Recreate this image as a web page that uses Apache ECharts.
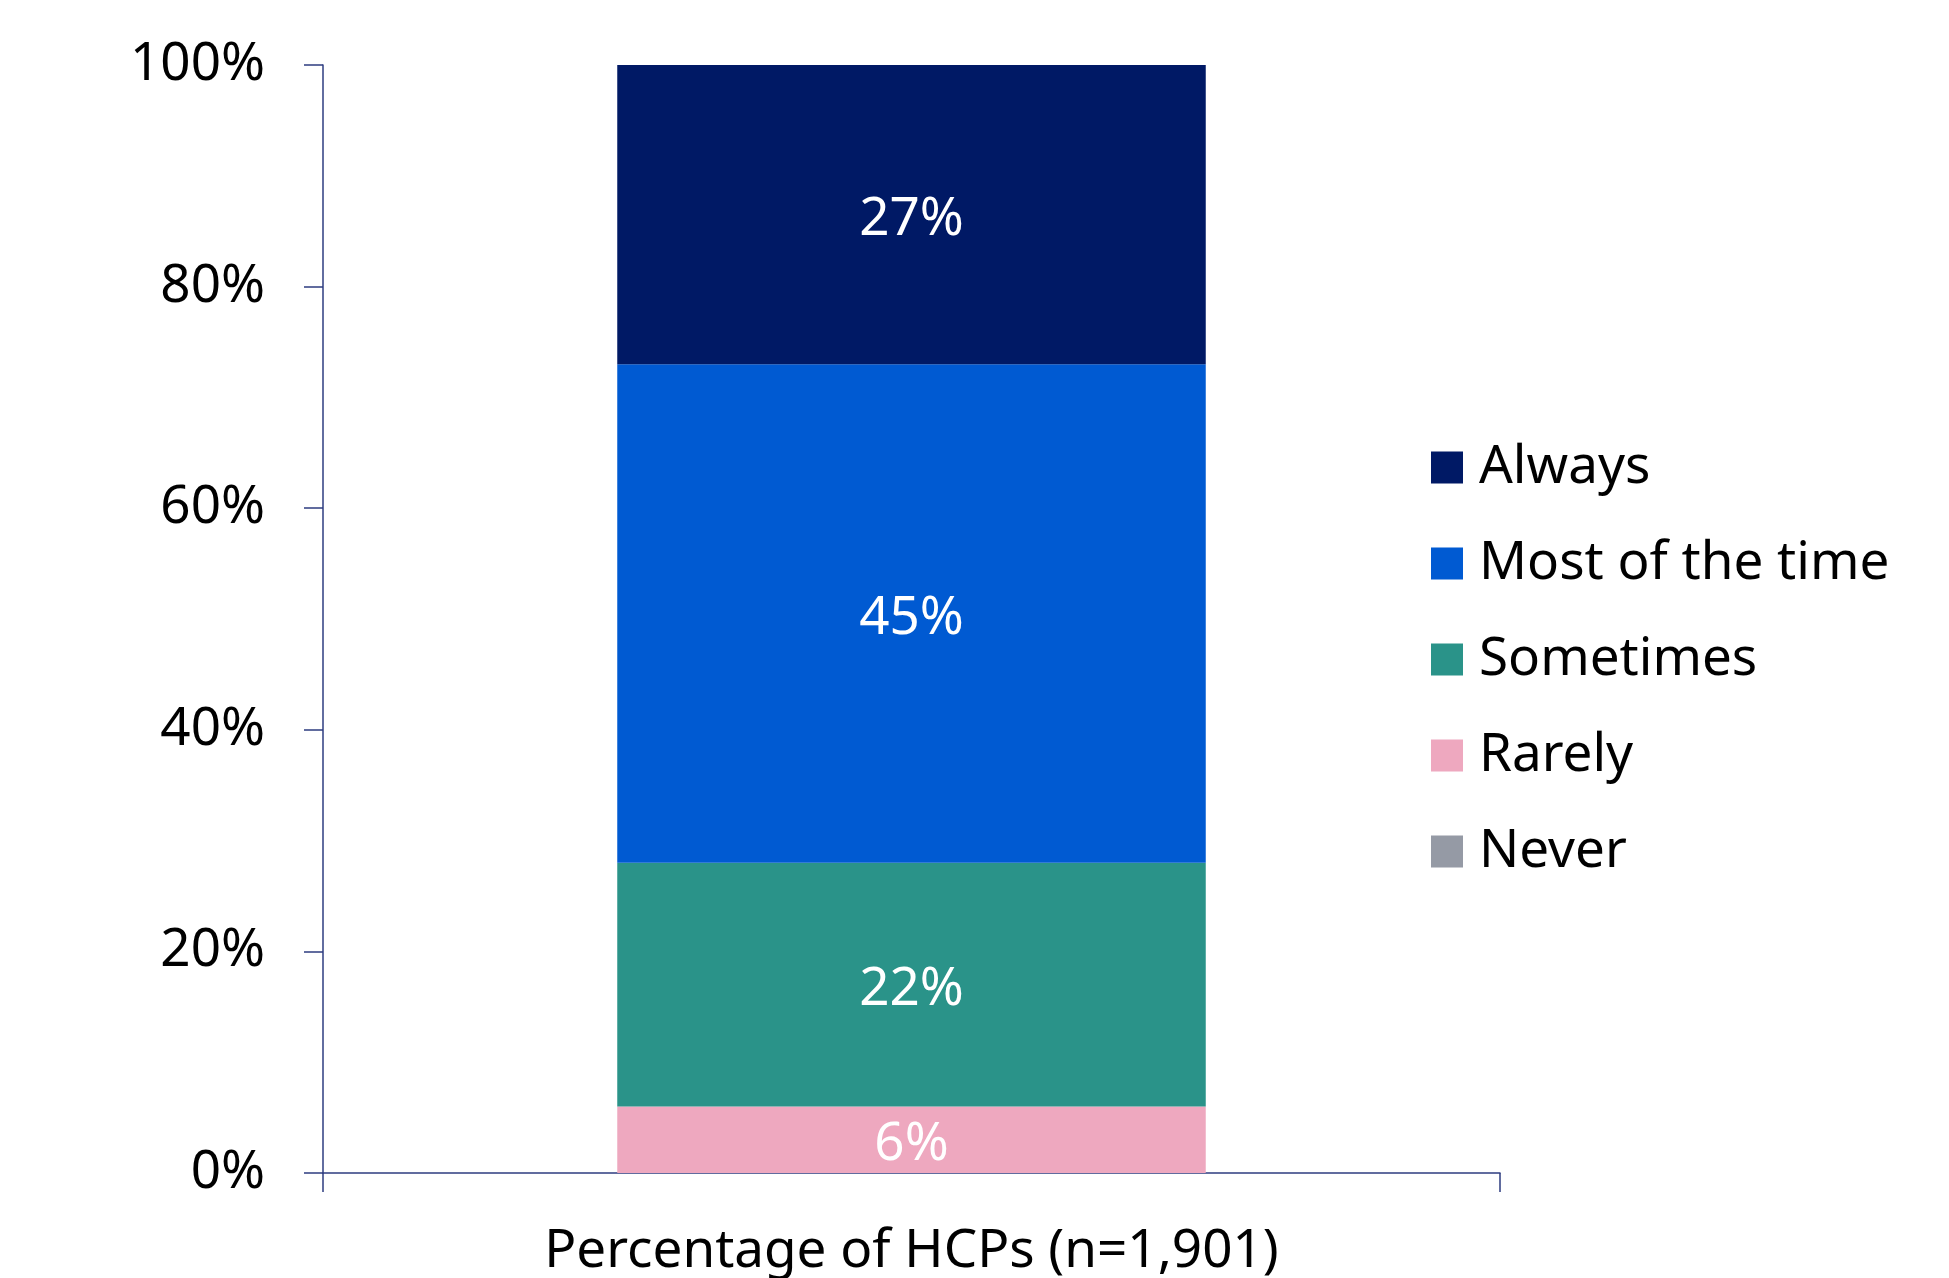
<!DOCTYPE html>
<html>
<head>
<meta charset="utf-8">
<script src="https://cdn.jsdelivr.net/npm/echarts@6/dist/echarts.min.js"></script>
<style>
  html, body { margin: 0; padding: 0; background: #ffffff; }
  #chart { width: 1949px; height: 1278px; }
</style>
</head>
<body>
<div id="chart"></div>
<script>
// Share of HCPs by response frequency (single stacked column)
const categories = ['Percentage of HCPs (n=1,901)'];
const responses = ['Always', 'Most of the time', 'Sometimes', 'Rarely', 'Never'];
const always = [27];
const mostOfTheTime = [45];
const sometimes = [22];
const rarely = [6];
const never = [0];
const yTicks = [0, 20, 40, 60, 80, 100];

const colors = {
  'Always': '#001965',
  'Most of the time': '#005ad2',
  'Sometimes': '#2a9389',
  'Rarely': '#eea8bf',
  'Never': '#959aa5'
};

const FONT = 'Noto Sans';
const FONT_SIZE = 53;
const axisColor = '#2e3d80';

function segment(name, values) {
  return {
    name: name,
    type: 'bar',
    stack: 'total',
    barWidth: '50%',
    data: values,
    itemStyle: { color: colors[name] },
    label: {
      show: true,
      position: 'inside',
      offset: [0, 5],
      color: '#ffffff',
      fontFamily: FONT,
      fontSize: FONT_SIZE,
      formatter: p => (p.value > 0 ? p.value + '%' : '')
    }
  };
}

const chart = echarts.init(document.getElementById('chart'), null, { renderer: 'canvas' });
chart.setOption({
  animation: false,
  backgroundColor: '#ffffff',
  textStyle: { fontFamily: FONT },
  grid: { left: 323, right: 449, top: 65, bottom: 103, containLabel: false },
  legend: {
    data: responses,
    orient: 'vertical',
    left: 1426,
    top: 436,
    icon: 'rect',
    itemWidth: 32,
    itemHeight: 32,
    itemGap: 43,
    textStyle: { fontFamily: FONT, fontSize: FONT_SIZE, color: '#000000', lineHeight: 50, padding: [0, 0, 0, 11] }
  },
  xAxis: {
    type: 'category',
    data: categories,
    axisLine: { show: true, lineStyle: { color: axisColor, width: 1.5 } },
    axisTick: { show: true, length: 19, lineStyle: { color: axisColor, width: 1.5 } },
    axisLabel: { color: '#000000', fontFamily: FONT, fontSize: FONT_SIZE, margin: 52 }
  },
  yAxis: {
    type: 'value',
    min: yTicks[0],
    max: yTicks[yTicks.length - 1],
    interval: 20,
    axisLine: { show: true, lineStyle: { color: axisColor, width: 1.5 } },
    axisTick: { show: true, length: 19, lineStyle: { color: axisColor, width: 1.5 } },
    splitLine: { show: false },
    axisLabel: { color: '#000000', fontFamily: FONT, fontSize: FONT_SIZE, margin: 58, formatter: v => v + '%' }
  },
  series: [
    segment('Never', never),
    segment('Rarely', rarely),
    segment('Sometimes', sometimes),
    segment('Most of the time', mostOfTheTime),
    segment('Always', always)
  ]
});
</script>
</body>
</html>
